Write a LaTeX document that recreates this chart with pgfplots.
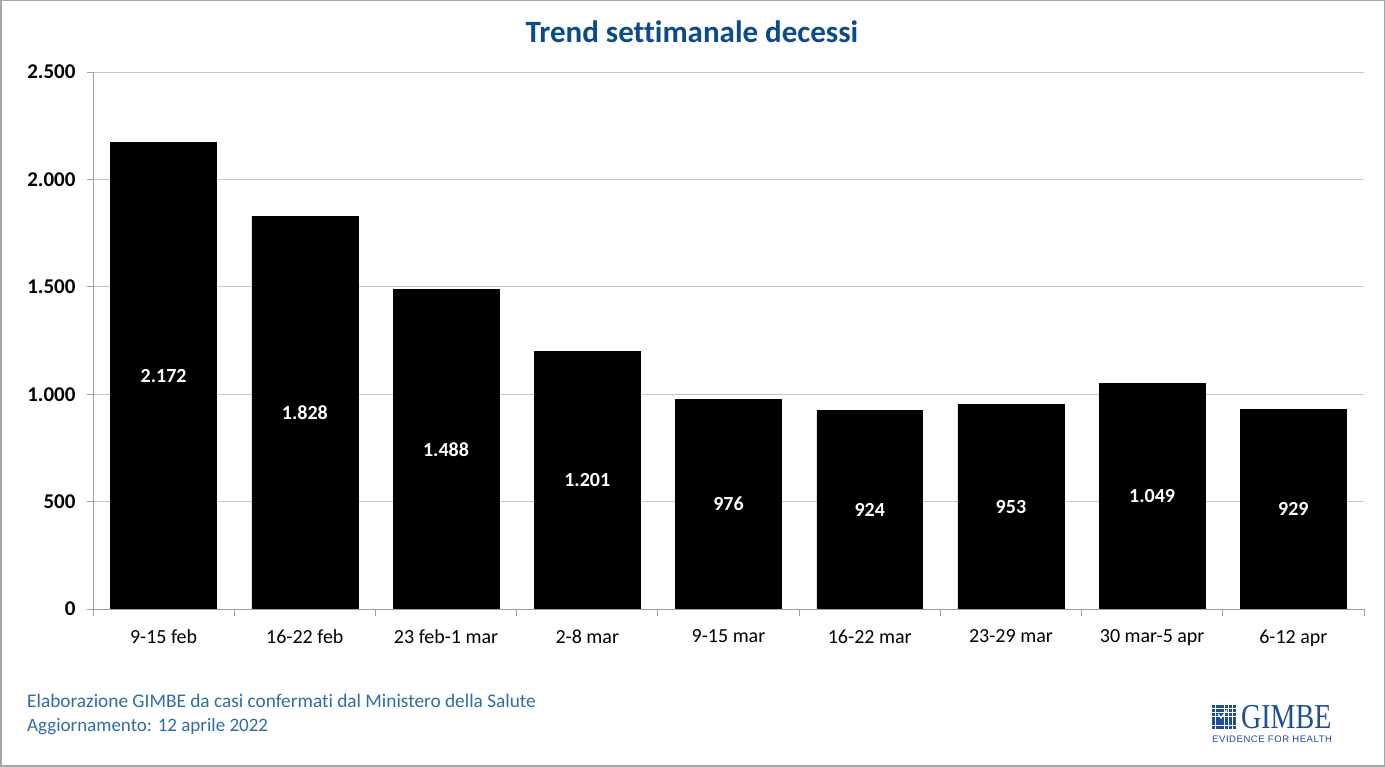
\documentclass[border=0pt]{standalone}
\usepackage{fontspec}
\setmainfont{Carlito}[Ligatures=NoCommon]
\newfontfamily\logoserif{Liberation Serif}
\newfontfamily\logosans[LetterSpace=6]{Liberation Sans}
\usepackage{pgfplots}
\pgfplotsset{compat=1.18}

\definecolor{titleblue}{HTML}{0B4A8B}
\definecolor{footblue}{HTML}{2F6BA8}
\definecolor{logoblue}{HTML}{1D4F91}

\begin{document}
\begin{tikzpicture}[x=1pt,y=1pt]
  \useasboundingbox (0,0) rectangle (1385,767);
  \draw[gray!70, line width=1.5pt] (0.75,0.75) rectangle (1384.25,766.25);

  \begin{axis}[
      at={(93pt,158pt)}, anchor=south west,
      scale only axis,
      width=1271pt, height=537pt,
      xmin=-0.5, xmax=8.5,
      ymin=0, ymax=2500,
      ytick={0,500,...,2500},
      xtick={0,...,8},
      xticklabels={9-15 feb,16-22 feb,23 feb-1 mar,2-8 mar,9-15 mar,16-22 mar,23-29 mar,30 mar-5 apr,6-12 apr},
      minor xtick={-0.5,0.5,...,8.5},
      major x tick style={draw=none},
      axis x line*=bottom, axis y line*=left,
      axis line style={gray!75, line width=0.9pt},
      tick align=outside,
      tick style={gray!75, line width=0.9pt},
      major tick length=6pt, minor tick length=7pt,
      ymajorgrids, grid style={gray!45, line width=0.8pt},
      scaled y ticks=false,
      /pgf/number format/.cd, 1000 sep={.}, assume math mode=true,
      /pgfplots/.cd,
      yticklabel style={font=\bfseries\fontsize{21}{21}\selectfont, xshift=-8pt},
      xticklabel style={font=\fontsize{20}{20}\selectfont, yshift=-11pt},
    ]
    \addplot[ybar, bar width=0.75, fill=black, draw=black,
        nodes near coords,
        visualization depends on=y \as \rawy,
        every node near coord/.append style={anchor=center, text=white,
          font=\bfseries\fontsize{20}{20}\selectfont,
          shift={(axis direction cs:0,-\rawy/2)}}]
      coordinates {
        (0,2172) (1,1828) (2,1488) (3,1201) (4,976)
        (5,924) (6,953) (7,1049) (8,929)
      };
  \end{axis}

  \node[anchor=base, text=titleblue, font=\bfseries\fontsize{31}{31}\selectfont]
    at (692,724) {Trend settimanale decessi};

  \node[anchor=base west, text=footblue, font=\fontsize{19.3}{19.3}\selectfont, inner sep=0pt]
    at (27,59) {Elaborazione GIMBE da casi confermati dal Ministero della Salute};
  \node[anchor=base west, text=footblue, font=\fontsize{19}{19}\selectfont, inner sep=0pt]
    at (27,35) {Aggiornamento: 12 aprile 2022};

  % logo
  \foreach \i in {0,...,5}
    \foreach \j in {0,...,5}
      \fill[logoblue] (1212+\i*4.2,38+\j*4.2) rectangle ++(3.3,3.3);
  \draw[white, line width=1.2pt] (1218,53) -- (1221,49) -- (1227,57);
  \node[anchor=base west, inner sep=0pt, text=logoblue, xscale=0.8,
        font=\logoserif\fontsize{35}{35}\selectfont] at (1241,38.5) {GIMBE};
  \node[anchor=base west, inner sep=0pt, text=logoblue,
        font=\logosans\fontsize{9.5}{9.5}\selectfont] at (1212,24.5) {EVIDENCE FOR HEALTH};
\end{tikzpicture}
\end{document}
